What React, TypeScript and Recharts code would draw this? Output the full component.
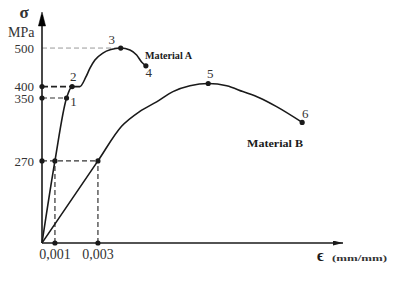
import { ComposedChart, Line, Scatter, XAxis, YAxis } from "recharts";

// tick values and labels
const strainTicks = [0.001, 0.003];
const strainTickLabels = ["0,001", "0,003"];
const stressTicks = [270, 350, 400, 500];

// the drawing is schematic (not to scale): knots of the axes and where they sit along them
const strainKnots = [0, 0.001, 0.0144];
const strainStops = [0, 0.043, 1];
const stressKnots = [0, 270, 350, 400, 500, 586];
const stressStops = [0, 0.36, 0.636, 0.686, 0.855, 1];

// Material A curve
const strainA = [0, 0.001, 0.00154, 0.0018, 0.00216, 0.00244, 0.00263, 0.00286, 0.00323, 0.0036, 0.00406, 0.00449, 0.0048, 0.00503, 0.00523];
const stressA = [0, 270, 350, 400, 400, 425, 448, 469, 487, 496, 500, 495, 482, 464, 454];

// Material B curve
const strainB = [0, 0.003, 0.0041, 0.00495, 0.00573, 0.00649, 0.00728, 0.00813, 0.00899, 0.00974, 0.01053, 0.01131, 0.0125];
const stressB = [0, 270, 314, 333, 345, 378, 402, 408, 402, 378, 350, 339, 319];

// numbered points
const pointLabels = ["1", "2", "3", "4", "5", "6"];
const pointStrain = [0.00154, 0.0018, 0.00406, 0.00523, 0.00813, 0.0125];
const pointStress = [350, 400, 500, 454, 408, 319];

// dashed guides
const hGuideStress = [500, 400, 350, 270];
const hGuideEnd = [0.00406, 0.0018, 0.00154, 0.003];
const vGuideStrain = [0.001, 0.003];
const vGuideTop = [270, 270];

// unlabeled dots at guide ends
const footStrain = [0, 0, 0, 0.001, 0.003, 0.001, 0.003];
const footStress = [400, 350, 270, 0, 0, 270, 270];

// piecewise linear scale so the axes can follow the drawing
function schematicScale(knots: number[], stops: number[]): any {
    let range = [0, 1];
    const scale: any = (v: number) => {
        let i = 1;
        while (i < knots.length - 1 && v > knots[i]) i++;
        const t = (v - knots[i - 1]) / (knots[i] - knots[i - 1]);
        const f = stops[i - 1] + t * (stops[i] - stops[i - 1]);
        return range[0] + f * (range[1] - range[0]);
    };
    scale.domain = (d?: number[]) => (d ? scale : [knots[0], knots[knots.length - 1]]);
    scale.range = (r?: number[]) => {
        if (r) {
            range = [...r];
            return scale;
        }
        return range;
    };
    scale.copy = () => schematicScale(knots, stops).range(range);
    scale.ticks = () => knots.slice();
    scale.invert = (px: number) => {
        const f = (px - range[0]) / (range[1] - range[0]);
        let i = 1;
        while (i < stops.length - 1 && f > stops[i]) i++;
        const t = (f - stops[i - 1]) / (stops[i] - stops[i - 1]);
        return knots[i - 1] + t * (knots[i] - knots[i - 1]);
    };
    return scale;
}

const toRows = (xs: number[], ys: number[]) => xs.map((strain, i) => ({ strain, stress: ys[i] }));

const stressTop = stressKnots[stressKnots.length - 1];
const curveA = toRows(strainA, stressA);
const curveB = toRows(strainB, stressB);
const points = pointLabels.map((label, i) => ({ strain: pointStrain[i], stress: pointStress[i], label }));
const feet = footStrain.map((strain, i) => ({ strain, stress: footStress[i], label: "" }));

const guideStyles = [
    { stroke: "#9a9a9a", strokeWidth: 1, strokeDasharray: "5 3" },
    { stroke: "#222", strokeWidth: 1.6, strokeDasharray: "6 3" },
    { stroke: "#333", strokeWidth: 1.2, strokeDasharray: "5 3" },
    { stroke: "#333", strokeWidth: 1.2, strokeDasharray: "5 3" },
];

// where each number sits relative to its dot
const labelOffset: Record<string, [number, number]> = {
    "1": [7, 4], "2": [1, -10], "3": [-9, -9], "4": [3, 7], "5": [2, -10], "6": [3, -9],
};

const serif = "'Liberation Serif', 'DejaVu Serif', serif";
const ink = "#1a1a1a";

const Dot = (props: any) => {
    const { cx, cy, payload } = props;
    const off = labelOffset[payload.label];
    return (
        <g>
            <circle cx={cx} cy={cy} r={2.6} fill={ink} />
            {off && (
                <text x={cx + off[0]} y={cy + off[1]} textAnchor="middle" dominantBaseline="central"
                    fontFamily={serif} fontSize={13} fill="#333">
                    {payload.label}
                </text>
            )}
        </g>
    );
};

// arrow head plus σ / MPa title at the top of the vertical axis
const YAxisHead = (props: any) => {
    const { x, y, width } = props.viewBox;
    const ax = x + width;
    return (
        <g>
            <polygon points={`${ax},${y - 3} ${ax - 3.6},${y + 11} ${ax + 3.6},${y + 11}`} fill="#000" stroke="#000" strokeWidth={0.5} />
            <text x={ax - 18} y={y + 3} textAnchor="middle" fontFamily={serif} fontSize={17}
                fontWeight="bold" fill="#333">σ</text>
            <text x={ax - 34} y={y + 22} fontFamily={serif} fontSize={14} fill="#333">MPa</text>
        </g>
    );
};

export default function App() {
    const xScale = schematicScale(strainKnots, strainStops);
    const yScale = schematicScale(stressKnots, stressStops);

    return (
        <div style={{ position: "absolute", left: 0, top: 0, width: 394, height: 282, background: "#fff" }}>
            <ComposedChart width={394} height={282} margin={{ top: 15, right: 51, bottom: 9, left: 0 }}>
                <defs>
                    <marker id="arrowHead" viewBox="0 0 12 6" markerWidth={12} markerHeight={5} refX={12} refY={3}
                        orient="auto" markerUnits="userSpaceOnUse">
                        <path d="M0,0 L12,3 L0,6 z" fill={ink} />
                    </marker>
                </defs>
                <XAxis
                    type="number"
                    dataKey="strain"
                    scale={xScale}
                    domain={[0, 0.0144]}
                    ticks={strainTicks}
                    interval={0}
                    tickFormatter={(v) => strainTickLabels[strainTicks.indexOf(v)]}
                    tickLine={false}
                    tickMargin={0}
                    height={30}
                    axisLine={{ stroke: ink, strokeWidth: 1.6, markerEnd: "url(#arrowHead)" }}
                    tick={{ fontFamily: serif, fontSize: 14, fill: "#333" }}
                />
                <YAxis
                    type="number"
                    dataKey="stress"
                    scale={yScale}
                    domain={[0, stressTop]}
                    ticks={stressTicks}
                    interval={0}
                    tickLine={false}
                    width={42}
                    axisLine={{ stroke: ink, strokeWidth: 1.6 }}
                    tick={{ fontFamily: serif, fontSize: 13, fill: "#333" }}
                    label={{ content: YAxisHead }}
                />
                {hGuideStress.map((s, i) => (
                    <Line key={`h${i}`} data={[{ strain: 0, stress: s }, { strain: hGuideEnd[i], stress: s }]}
                        dataKey="stress" type="linear" dot={false} activeDot={false}
                        {...guideStyles[i]} isAnimationActive={false} />
                ))}
                {vGuideStrain.map((e, i) => (
                    <Line key={`v${i}`} data={[{ strain: e, stress: 0 }, { strain: e, stress: vGuideTop[i] }]}
                        dataKey="stress" type="linear" dot={false} activeDot={false}
                        stroke="#333" strokeWidth={1.2} strokeDasharray="5 3" isAnimationActive={false} />
                ))}
                <Line data={curveA} dataKey="stress" type="monotone" stroke={ink} strokeWidth={1.6}
                    dot={false} activeDot={false} isAnimationActive={false} />
                <Line data={curveB} dataKey="stress" type="monotone" stroke={ink} strokeWidth={1.6}
                    dot={false} activeDot={false} isAnimationActive={false} />
                <Scatter data={feet} dataKey="stress" shape={Dot} isAnimationActive={false} />
                <Scatter data={points} dataKey="stress" shape={Dot} isAnimationActive={false} />

                <text x={145} y={59} fontFamily={serif} fontSize={10} fontWeight="bold" fill={ink}
                    textLength={47} lengthAdjust="spacingAndGlyphs">Material A</text>
                <text x={247} y={147} fontFamily={serif} fontSize={11} fontWeight="bold" fill={ink}
                    textLength={56} lengthAdjust="spacingAndGlyphs">Material B</text>
                <text x={317} y={261} fontFamily={serif} fontSize={16} fontWeight="bold" fill={ink}>ϵ</text>
                <text x={332} y={261} fontFamily={serif} fontSize={9} fontWeight="bold" fill="#333"
                    textLength={55} lengthAdjust="spacingAndGlyphs">(mm/mm)</text>
            </ComposedChart>
        </div>
    );
}
